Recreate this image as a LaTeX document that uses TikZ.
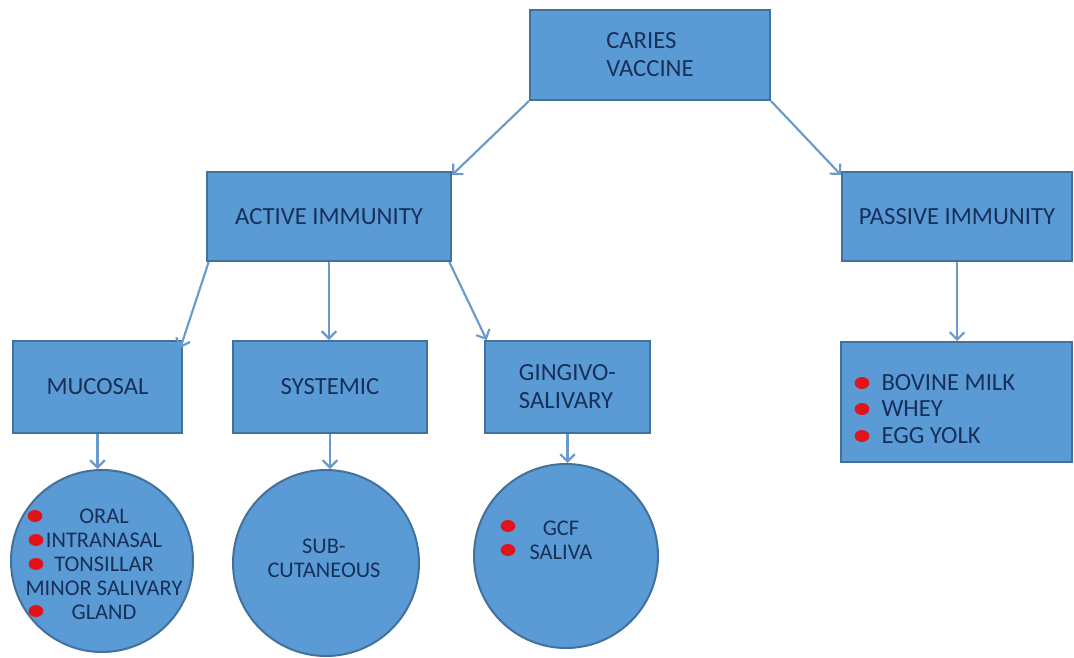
\documentclass[tikz,border=0pt]{standalone}
\usepackage{fontspec}
\setmainfont{Carlito}
\usetikzlibrary{arrows.meta}

\definecolor{boxfill}{HTML}{5B9BD5}
\definecolor{boxline}{HTML}{41719C}
\definecolor{arrline}{HTML}{6A9AC9}
\definecolor{txtnavy}{HTML}{17305A}
\definecolor{dotred}{HTML}{E3121B}

\tikzset{every picture/.style={line width=0.75pt}}
\tikzset{
  blockbox/.style={rectangle, draw=boxline, fill=boxfill, line width=1.5pt, inner sep=0pt, text=txtnavy, font=\fontsize{18.5}{21}\selectfont},
  roundbox/.style={circle, draw=boxline, fill=boxfill, line width=1.5pt, inner sep=0pt},
  circtext/.style={text=txtnavy, inner sep=0pt, align=center, font=\fontsize{16.8}{18}\selectfont},
  linkarrow/.style={draw=arrline, line width=1.6pt, -{Straight Barb[length=5.5pt,width=11pt]}},
  reddot/.style={fill=dotred}
}

\begin{document}
\begin{tikzpicture}[x=0.75pt,y=0.75pt,yscale=-1,xscale=1]
		\path (0,0) rectangle (1074,657);
		
		%Shape: Rectangle [caries]
		\node [blockbox, minimum width=180pt, minimum height=67.5pt, align=left] (caries) at (650,55) {CARIES\\VACCINE};
		%Shape: Rectangle [active]
		\node [blockbox, minimum width=183pt, minimum height=66.75pt] (active) at (329,216.5) {ACTIVE IMMUNITY};
		%Shape: Rectangle [passive]
		\node [blockbox, minimum width=172.5pt, minimum height=66.75pt] (passive) at (957,216.5) {PASSIVE IMMUNITY};
		%Shape: Rectangle [mucosal]
		\node [blockbox, minimum width=126.75pt, minimum height=69pt] (mucosal) at (97.5,387) {MUCOSAL};
		%Shape: Rectangle [systemic]
		\node [blockbox, minimum width=145.5pt, minimum height=69pt] (systemic) at (330,387) {SYSTEMIC};
		%Shape: Rectangle [gingivo]
		\node [blockbox, minimum width=123.75pt, minimum height=69pt, align=left] (gingivo) at (567.5,387) {GINGIVO-\\SALIVARY};
		%Shape: Rectangle [bovine]
		\node [blockbox, minimum width=173.25pt, minimum height=90pt] (bovine) at (956.5,402) {};
		
		%Shape: Circle [mucosalcirc]
		\node [roundbox, minimum size=136.5pt] (mucosalcirc) at (102,561) {};
		%Shape: Circle [systemiccirc]
		\node [roundbox, minimum size=139.5pt] (systemiccirc) at (326,563) {};
		%Shape: Circle [gingivocirc]
		\node [roundbox, minimum size=138pt] (gingivocirc) at (566,556) {};
		
		\draw [linkarrow] (caries.south west) -- ([yshift=3pt]active.north east);
		\draw [linkarrow] (caries.south east) -- ([yshift=3pt]passive.north west);
		\draw [linkarrow] ([xshift=2pt]active.south west) -- ([xshift=-2pt,yshift=6pt]mucosal.north east);
		\draw [linkarrow] (active.south) -- (active.south |- systemic.north);
		\draw [linkarrow] ([xshift=-2pt]active.south east) -- ([xshift=2pt]gingivo.north west);
		\draw [linkarrow] (passive.south) -- (passive.south |- bovine.north);
		\draw [linkarrow] (mucosal.south) -- (mucosal.south |- mucosalcirc.north);
		\draw [linkarrow] (systemic.south) -- (systemic.south |- systemiccirc.north);
		\draw [linkarrow] (gingivo.south) -- (gingivo.south |- gingivocirc.north);
		
		%Bullets
		\fill [reddot] (35,516) ellipse [x radius=5.5pt, y radius=4.5pt];
		\fill [reddot] (36,540) ellipse [x radius=5.5pt, y radius=4.5pt];
		\fill [reddot] (36,564) ellipse [x radius=5.5pt, y radius=4.5pt];
		\fill [reddot] (36,611) ellipse [x radius=5.5pt, y radius=4.5pt];
		\fill [reddot] (508,526) ellipse [x radius=5.5pt, y radius=4.5pt];
		\fill [reddot] (508,550) ellipse [x radius=5.5pt, y radius=4.5pt];
		\fill [reddot] (862,383) ellipse [x radius=5.5pt, y radius=4.5pt];
		\fill [reddot] (862,409) ellipse [x radius=5.5pt, y radius=4.5pt];
		\fill [reddot] (862,436) ellipse [x radius=5.5pt, y radius=4.5pt];
		
		\node [circtext] (mucosaltxt) at (104,564.5) {ORAL\\INTRANASAL\\TONSILLAR\\MINOR SALIVARY\\GLAND};
		\node [circtext] (systemictxt) at (324,558.5) {SUB-\\CUTANEOUS};
		\node [circtext] (gingivotxt) at (561,540) {GCF\\SALIVA};
		\node [circtext, anchor=west, align=left, font=\fontsize{18.5}{20}\selectfont] (bovinetxt) at (881,409) {BOVINE MILK\\WHEY\\EGG YOLK};
		
	\end{tikzpicture}
\end{document}
